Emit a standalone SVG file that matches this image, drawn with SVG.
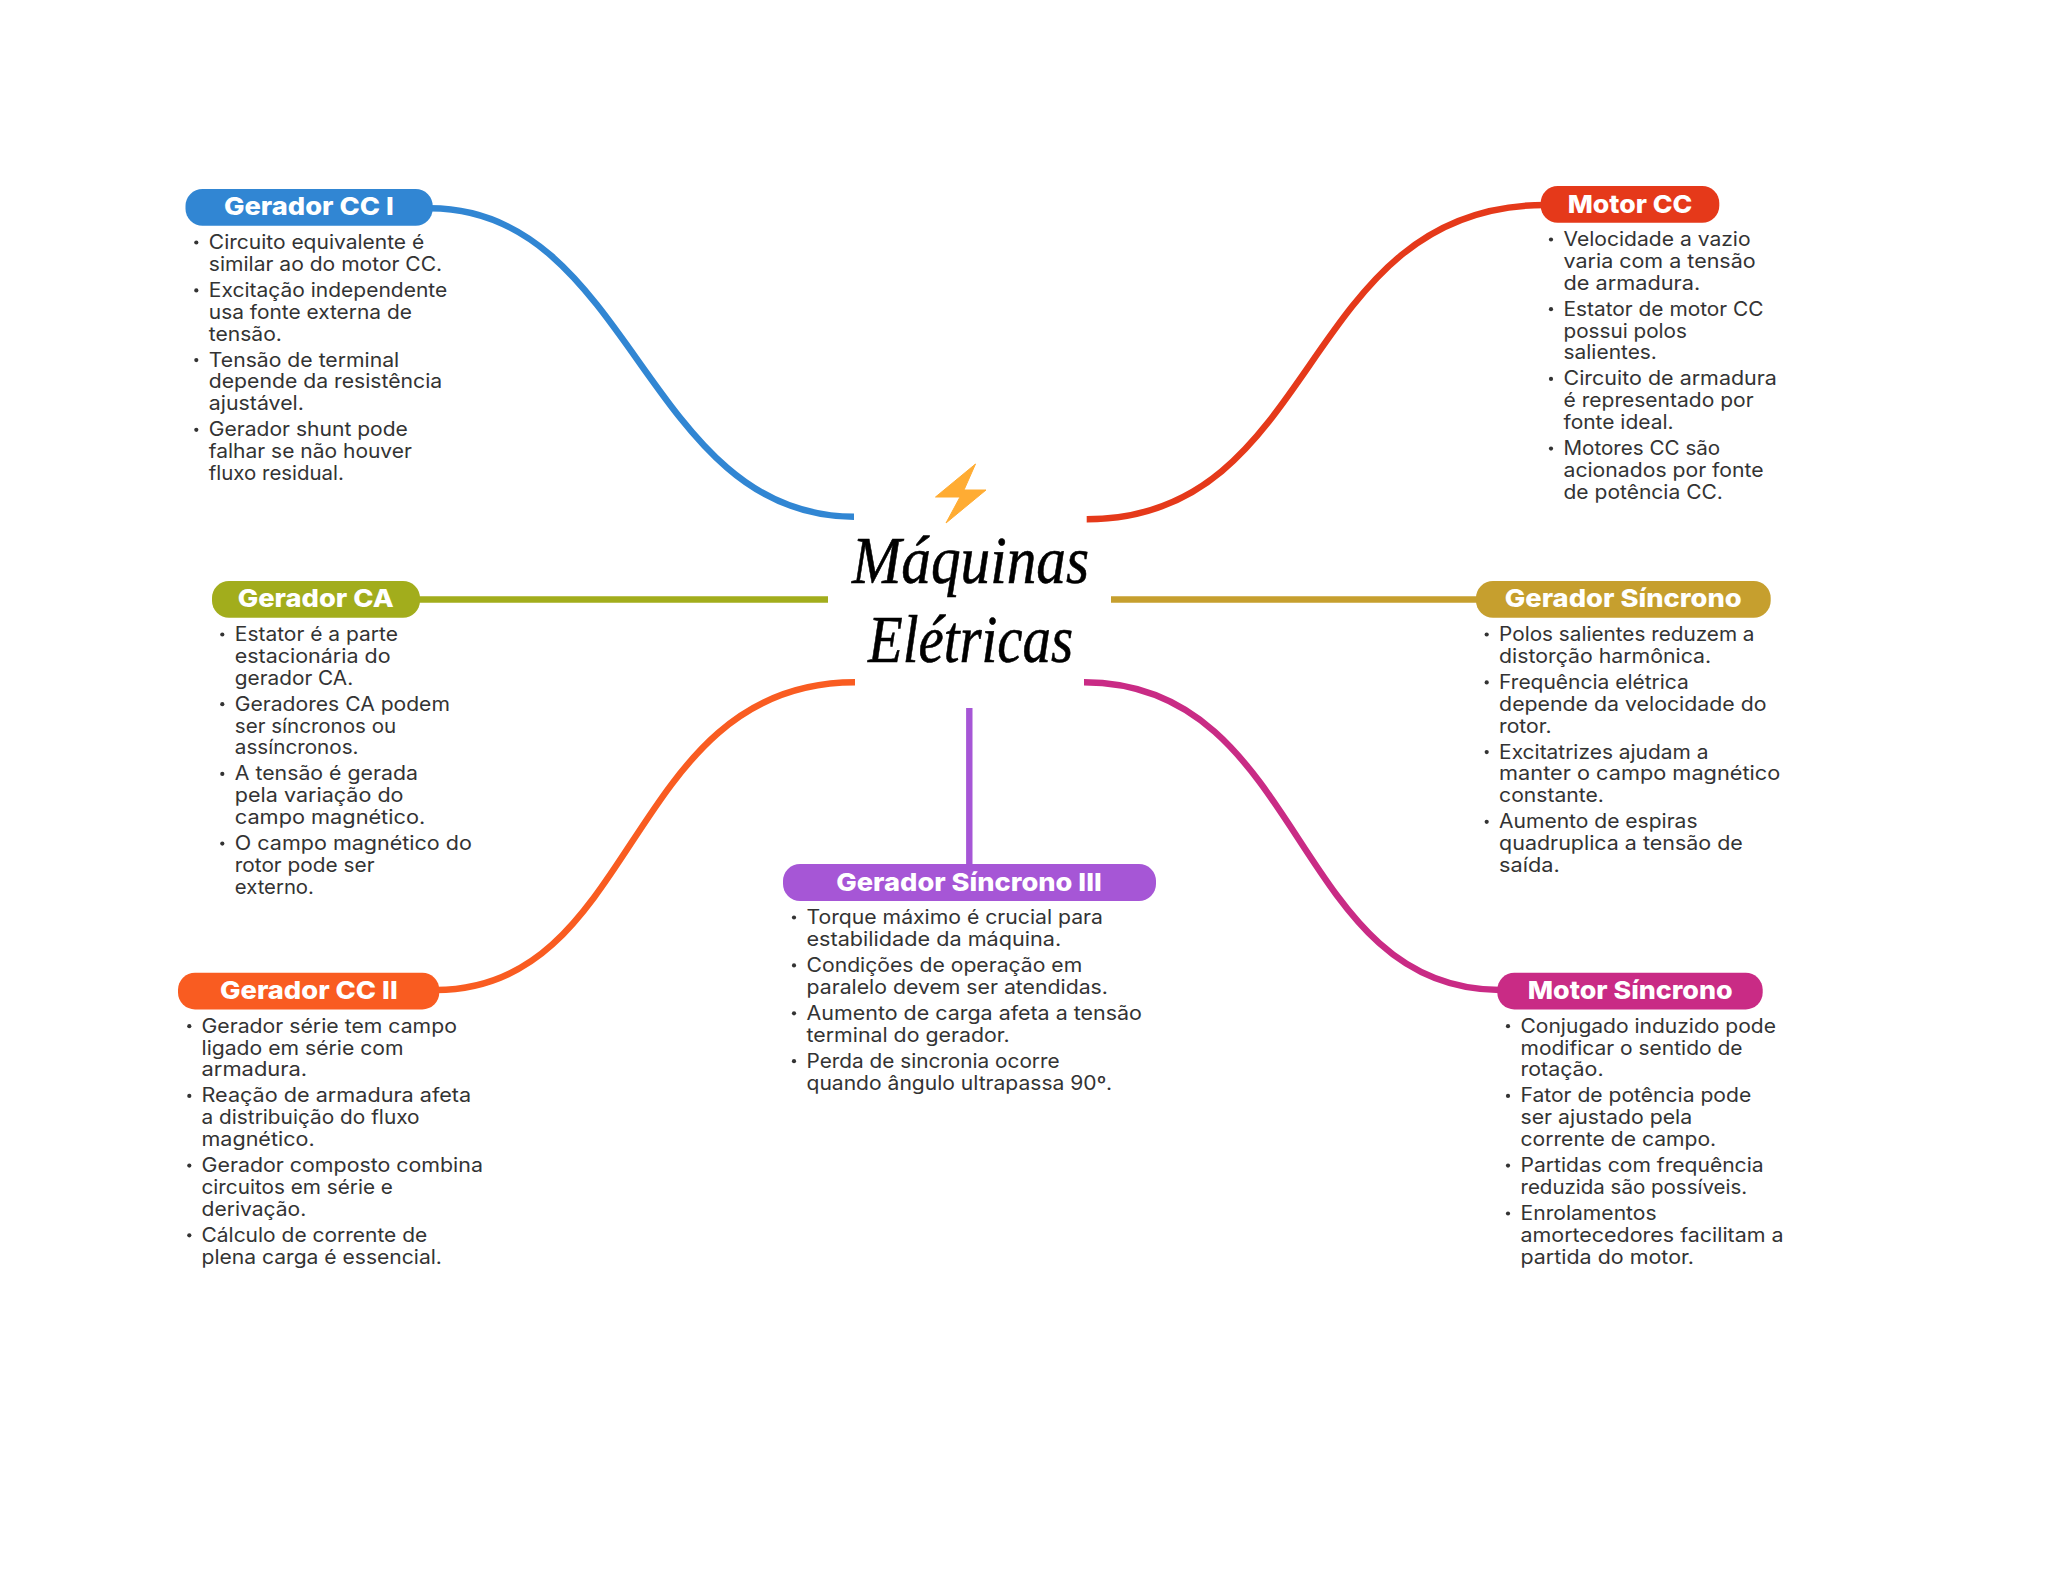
<svg xmlns="http://www.w3.org/2000/svg" width="2048" height="1569" viewBox="0 0 2048 1569">
<style>
.c{fill:none;stroke-width:6.4}
.p{stroke:none}
.h{font-family:"Inter","Liberation Sans",sans-serif;font-weight:800;font-size:25px;fill:#fff}
.t{font-family:"Inter","Liberation Sans",sans-serif;font-weight:400;font-size:19.5px;fill:#333}
.b{fill:#333}
.m{font-family:"Liberation Serif",serif;font-style:italic;font-size:68px;fill:#000;stroke:#000;stroke-width:.6px}
</style>
<rect width="2048" height="1569" fill="#fff"/>
<g id="connectors">
<path class="c" stroke="#3186d3" d="M430 208.3C632 208.3 645 516.7 854 516.7"/>
<path class="c" stroke="#e5391a" d="M1086.7 519.3C1322 519.3 1298.6 205 1545 205"/>
<path class="c" stroke="#a2ad1c" d="M418 599.5H828"/>
<path class="c" stroke="#c69f2e" d="M1111 599.5H1478"/>
<path class="c" stroke="#f95c21" d="M855 682.3C625 682.3 640 990 436 990"/>
<path class="c" stroke="#c92b85" d="M1084 682.3C1305.7 682.3 1290.8 990 1500 990"/>
<path class="c" stroke="#a656d6" d="M969.3 708V866"/>
</g>
<g id="center">
<polygon fill="#ffac33" stroke="#ffac33" stroke-width="1" stroke-linejoin="round" points="975.5,464 935.5,497 960,497 946,523 986,490 964,490"/>
<text class="m" x="852" y="583" textLength="237" lengthAdjust="spacingAndGlyphs">Máquinas</text>
<text class="m" x="868" y="661.5" textLength="205" lengthAdjust="spacingAndGlyphs">Elétricas</text>
</g>
<g id="gerador-cc-1">
<rect class="p" fill="#3186d3" x="185.5" y="189" width="247.2" height="36.7" rx="17"/>
<text class="h" x="224" y="215" textLength="169.7" lengthAdjust="spacingAndGlyphs">Gerador CC I</text>
<circle class="b" cx="196.3" cy="242.5" r="2.1"/><circle class="b" cx="196.3" cy="290.4" r="2.1"/><circle class="b" cx="196.3" cy="360.1" r="2.1"/><circle class="b" cx="196.3" cy="429.8" r="2.1"/>
<text class="t" x="208.8" y="249" textLength="215.4" lengthAdjust="spacingAndGlyphs">Circuito equivalente é</text>
<text class="t" x="208.8" y="270.8" textLength="233.4" lengthAdjust="spacingAndGlyphs">similar ao do motor CC.</text>
<text class="t" x="208.8" y="296.9" textLength="238.4" lengthAdjust="spacingAndGlyphs">Excitação independente</text>
<text class="t" x="208.8" y="318.7" textLength="203.1" lengthAdjust="spacingAndGlyphs">usa fonte externa de</text>
<text class="t" x="208.8" y="340.5" textLength="73.1" lengthAdjust="spacingAndGlyphs">tensão.</text>
<text class="t" x="208.8" y="366.6" textLength="190.4" lengthAdjust="spacingAndGlyphs">Tensão de terminal</text>
<text class="t" x="208.8" y="388.4" textLength="233.4" lengthAdjust="spacingAndGlyphs">depende da resistência</text>
<text class="t" x="208.8" y="410.2" textLength="95.1" lengthAdjust="spacingAndGlyphs">ajustável.</text>
<text class="t" x="208.8" y="436.3" textLength="199.1" lengthAdjust="spacingAndGlyphs">Gerador shunt pode</text>
<text class="t" x="208.8" y="458.1" textLength="203.1" lengthAdjust="spacingAndGlyphs">falhar se não houver</text>
<text class="t" x="208.8" y="479.9" textLength="135.1" lengthAdjust="spacingAndGlyphs">fluxo residual.</text>
</g>
<g id="motor-cc">
<rect class="p" fill="#e5391a" x="1540.7" y="186" width="178.6" height="36.7" rx="17"/>
<text class="h" x="1567.7" y="212.7" textLength="124.6" lengthAdjust="spacingAndGlyphs">Motor CC</text>
<circle class="b" cx="1551" cy="239.5" r="2.1"/><circle class="b" cx="1551" cy="309.2" r="2.1"/><circle class="b" cx="1551" cy="378.9" r="2.1"/><circle class="b" cx="1551" cy="448.6" r="2.1"/>
<text class="t" x="1563.5" y="246" textLength="187.1" lengthAdjust="spacingAndGlyphs">Velocidade a vazio</text>
<text class="t" x="1563.5" y="267.8" textLength="192.1" lengthAdjust="spacingAndGlyphs">varia com a tensão</text>
<text class="t" x="1563.5" y="289.6" textLength="136.7" lengthAdjust="spacingAndGlyphs">de armadura.</text>
<text class="t" x="1563.5" y="315.7" textLength="200.1" lengthAdjust="spacingAndGlyphs">Estator de motor CC</text>
<text class="t" x="1563.5" y="337.5" textLength="123.4" lengthAdjust="spacingAndGlyphs">possui polos</text>
<text class="t" x="1563.5" y="359.3" textLength="93.4" lengthAdjust="spacingAndGlyphs">salientes.</text>
<text class="t" x="1563.5" y="385.4" textLength="213.4" lengthAdjust="spacingAndGlyphs">Circuito de armadura</text>
<text class="t" x="1563.5" y="407.2" textLength="190.1" lengthAdjust="spacingAndGlyphs">é representado por</text>
<text class="t" x="1563.5" y="429" textLength="110.1" lengthAdjust="spacingAndGlyphs">fonte ideal.</text>
<text class="t" x="1563.5" y="455.1" textLength="156.7" lengthAdjust="spacingAndGlyphs">Motores CC são</text>
<text class="t" x="1563.5" y="476.9" textLength="200.1" lengthAdjust="spacingAndGlyphs">acionados por fonte</text>
<text class="t" x="1563.5" y="498.7" textLength="159.4" lengthAdjust="spacingAndGlyphs">de potência CC.</text>
</g>
<g id="gerador-ca">
<rect class="p" fill="#a2ad1c" x="212" y="581" width="208" height="36.7" rx="17"/>
<text class="h" x="237.7" y="606.7" textLength="156" lengthAdjust="spacingAndGlyphs">Gerador CA</text>
<circle class="b" cx="222.3" cy="634.5" r="2.1"/><circle class="b" cx="222.3" cy="704.2" r="2.1"/><circle class="b" cx="222.3" cy="773.9" r="2.1"/><circle class="b" cx="222.3" cy="843.6" r="2.1"/>
<text class="t" x="234.8" y="641" textLength="163.1" lengthAdjust="spacingAndGlyphs">Estator é a parte</text>
<text class="t" x="234.8" y="662.8" textLength="155.7" lengthAdjust="spacingAndGlyphs">estacionária do</text>
<text class="t" x="234.8" y="684.6" textLength="118.4" lengthAdjust="spacingAndGlyphs">gerador CA.</text>
<text class="t" x="234.8" y="710.7" textLength="215.1" lengthAdjust="spacingAndGlyphs">Geradores CA podem</text>
<text class="t" x="234.8" y="732.5" textLength="161.4" lengthAdjust="spacingAndGlyphs">ser síncronos ou</text>
<text class="t" x="234.8" y="754.3" textLength="123.7" lengthAdjust="spacingAndGlyphs">assíncronos.</text>
<text class="t" x="234.8" y="780.4" textLength="183.1" lengthAdjust="spacingAndGlyphs">A tensão é gerada</text>
<text class="t" x="234.8" y="802.2" textLength="168.7" lengthAdjust="spacingAndGlyphs">pela variação do</text>
<text class="t" x="234.8" y="824" textLength="190.4" lengthAdjust="spacingAndGlyphs">campo magnético.</text>
<text class="t" x="234.8" y="850.1" textLength="237.1" lengthAdjust="spacingAndGlyphs">O campo magnético do</text>
<text class="t" x="234.8" y="871.9" textLength="139.7" lengthAdjust="spacingAndGlyphs">rotor pode ser</text>
<text class="t" x="234.8" y="893.7" textLength="79.1" lengthAdjust="spacingAndGlyphs">externo.</text>
</g>
<g id="gerador-sincrono">
<rect class="p" fill="#c69f2e" x="1476" y="581" width="294.7" height="36.7" rx="17"/>
<text class="h" x="1504.7" y="606.7" textLength="237" lengthAdjust="spacingAndGlyphs">Gerador Síncrono</text>
<circle class="b" cx="1486.7" cy="634.5" r="2.1"/><circle class="b" cx="1486.7" cy="682.4" r="2.1"/><circle class="b" cx="1486.7" cy="752.1" r="2.1"/><circle class="b" cx="1486.7" cy="821.8" r="2.1"/>
<text class="t" x="1499.1" y="641" textLength="255.4" lengthAdjust="spacingAndGlyphs">Polos salientes reduzem a</text>
<text class="t" x="1499.1" y="662.8" textLength="212.1" lengthAdjust="spacingAndGlyphs">distorção harmônica.</text>
<text class="t" x="1499.1" y="688.9" textLength="189.7" lengthAdjust="spacingAndGlyphs">Frequência elétrica</text>
<text class="t" x="1499.1" y="710.7" textLength="267.4" lengthAdjust="spacingAndGlyphs">depende da velocidade do</text>
<text class="t" x="1499.1" y="732.5" textLength="52.4" lengthAdjust="spacingAndGlyphs">rotor.</text>
<text class="t" x="1499.1" y="758.6" textLength="209.4" lengthAdjust="spacingAndGlyphs">Excitatrizes ajudam a</text>
<text class="t" x="1499.1" y="780.4" textLength="281.1" lengthAdjust="spacingAndGlyphs">manter o campo magnético</text>
<text class="t" x="1499.1" y="802.2" textLength="104.7" lengthAdjust="spacingAndGlyphs">constante.</text>
<text class="t" x="1499.1" y="828.3" textLength="198.4" lengthAdjust="spacingAndGlyphs">Aumento de espiras</text>
<text class="t" x="1499.1" y="850.1" textLength="243.7" lengthAdjust="spacingAndGlyphs">quadruplica a tensão de</text>
<text class="t" x="1499.1" y="871.9" textLength="60.7" lengthAdjust="spacingAndGlyphs">saída.</text>
</g>
<g id="gerador-sincrono-iii">
<rect class="p" fill="#a656d6" x="783" y="864" width="373" height="37" rx="17"/>
<text class="h" x="836.3" y="891" textLength="265.4" lengthAdjust="spacingAndGlyphs">Gerador Síncrono III</text>
<circle class="b" cx="794" cy="917.5" r="2.1"/><circle class="b" cx="794" cy="965.4" r="2.1"/><circle class="b" cx="794" cy="1013.3" r="2.1"/><circle class="b" cx="794" cy="1061.2" r="2.1"/>
<text class="t" x="806.5" y="924" textLength="296.4" lengthAdjust="spacingAndGlyphs">Torque máximo é crucial para</text>
<text class="t" x="806.5" y="945.8" textLength="254.7" lengthAdjust="spacingAndGlyphs">estabilidade da máquina.</text>
<text class="t" x="806.5" y="971.9" textLength="275.7" lengthAdjust="spacingAndGlyphs">Condições de operação em</text>
<text class="t" x="806.5" y="993.7" textLength="301.4" lengthAdjust="spacingAndGlyphs">paralelo devem ser atendidas.</text>
<text class="t" x="806.5" y="1019.8" textLength="335.4" lengthAdjust="spacingAndGlyphs">Aumento de carga afeta a tensão</text>
<text class="t" x="806.5" y="1041.6" textLength="203.1" lengthAdjust="spacingAndGlyphs">terminal do gerador.</text>
<text class="t" x="806.5" y="1067.7" textLength="253.1" lengthAdjust="spacingAndGlyphs">Perda de sincronia ocorre</text>
<text class="t" x="806.5" y="1089.5" textLength="305.7" lengthAdjust="spacingAndGlyphs">quando ângulo ultrapassa 90º.</text>
</g>
<g id="gerador-cc-2">
<rect class="p" fill="#f95c21" x="178" y="972.7" width="261.3" height="36.7" rx="17"/>
<text class="h" x="220" y="998.7" textLength="177.7" lengthAdjust="spacingAndGlyphs">Gerador CC II</text>
<circle class="b" cx="189.3" cy="1026.2" r="2.1"/><circle class="b" cx="189.3" cy="1095.9" r="2.1"/><circle class="b" cx="189.3" cy="1165.6" r="2.1"/><circle class="b" cx="189.3" cy="1235.3" r="2.1"/>
<text class="t" x="201.5" y="1032.7" textLength="255.4" lengthAdjust="spacingAndGlyphs">Gerador série tem campo</text>
<text class="t" x="201.5" y="1054.5" textLength="202.1" lengthAdjust="spacingAndGlyphs">ligado em série com</text>
<text class="t" x="201.5" y="1076.3" textLength="105.7" lengthAdjust="spacingAndGlyphs">armadura.</text>
<text class="t" x="201.5" y="1102.4" textLength="269.7" lengthAdjust="spacingAndGlyphs">Reação de armadura afeta</text>
<text class="t" x="201.5" y="1124.2" textLength="218.1" lengthAdjust="spacingAndGlyphs">a distribuição do fluxo</text>
<text class="t" x="201.5" y="1146" textLength="113.1" lengthAdjust="spacingAndGlyphs">magnético.</text>
<text class="t" x="201.5" y="1172.1" textLength="281.4" lengthAdjust="spacingAndGlyphs">Gerador composto combina</text>
<text class="t" x="201.5" y="1193.9" textLength="191.4" lengthAdjust="spacingAndGlyphs">circuitos em série e</text>
<text class="t" x="201.5" y="1215.7" textLength="104.7" lengthAdjust="spacingAndGlyphs">derivação.</text>
<text class="t" x="201.5" y="1241.8" textLength="225.7" lengthAdjust="spacingAndGlyphs">Cálculo de corrente de</text>
<text class="t" x="201.5" y="1263.6" textLength="240.4" lengthAdjust="spacingAndGlyphs">plena carga é essencial.</text>
</g>
<g id="motor-sincrono">
<rect class="p" fill="#c92b85" x="1497.3" y="972.7" width="265.4" height="36.7" rx="17"/>
<text class="h" x="1527.7" y="998.7" textLength="205" lengthAdjust="spacingAndGlyphs">Motor Síncrono</text>
<circle class="b" cx="1508" cy="1026.2" r="2.1"/><circle class="b" cx="1508" cy="1095.9" r="2.1"/><circle class="b" cx="1508" cy="1165.6" r="2.1"/><circle class="b" cx="1508" cy="1213.5" r="2.1"/>
<text class="t" x="1520.5" y="1032.7" textLength="255.4" lengthAdjust="spacingAndGlyphs">Conjugado induzido pode</text>
<text class="t" x="1520.5" y="1054.5" textLength="222.1" lengthAdjust="spacingAndGlyphs">modificar o sentido de</text>
<text class="t" x="1520.5" y="1076.3" textLength="83.1" lengthAdjust="spacingAndGlyphs">rotação.</text>
<text class="t" x="1520.5" y="1102.4" textLength="230.7" lengthAdjust="spacingAndGlyphs">Fator de potência pode</text>
<text class="t" x="1520.5" y="1124.2" textLength="171.7" lengthAdjust="spacingAndGlyphs">ser ajustado pela</text>
<text class="t" x="1520.5" y="1146" textLength="195.7" lengthAdjust="spacingAndGlyphs">corrente de campo.</text>
<text class="t" x="1520.5" y="1172.1" textLength="243.1" lengthAdjust="spacingAndGlyphs">Partidas com frequência</text>
<text class="t" x="1520.5" y="1193.9" textLength="226.7" lengthAdjust="spacingAndGlyphs">reduzida são possíveis.</text>
<text class="t" x="1520.5" y="1220" textLength="136.1" lengthAdjust="spacingAndGlyphs">Enrolamentos</text>
<text class="t" x="1520.5" y="1241.8" textLength="263.1" lengthAdjust="spacingAndGlyphs">amortecedores facilitam a</text>
<text class="t" x="1520.5" y="1263.6" textLength="173.4" lengthAdjust="spacingAndGlyphs">partida do motor.</text>
</g>
</svg>
